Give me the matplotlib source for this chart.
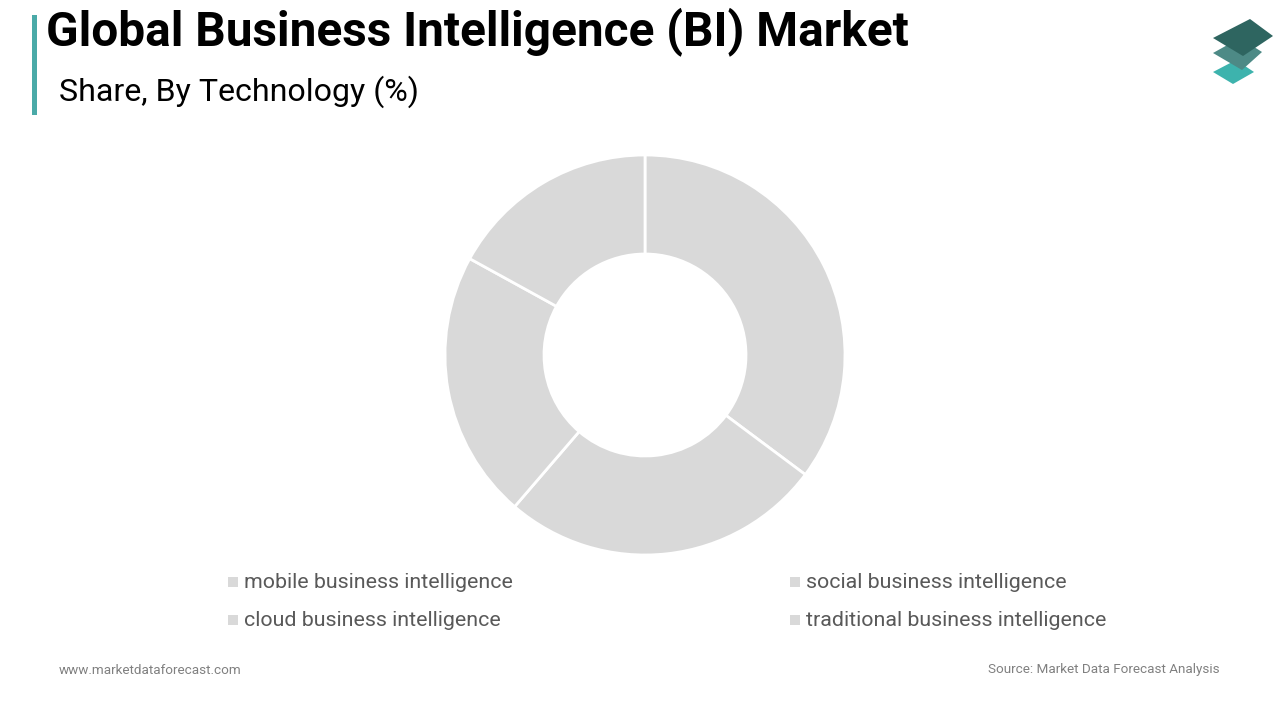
import matplotlib
matplotlib.use("Agg")
from matplotlib import pyplot as plt
from matplotlib.patches import Polygon, Rectangle

plt.rcParams['font.family'] = ['Roboto', 'DejaVu Sans']

# data (shares in %)
labels = ["mobile business intelligence", "cloud business intelligence",
          "social business intelligence", "traditional business intelligence"]
shares = [35.2, 26.1, 21.7, 17.0]

W, H = 1280, 720
fig = plt.figure(figsize=(W / 100, H / 100), dpi=100)
fig.patch.set_facecolor("white")

# donut, centre (645, 355), outer radius 200 px
cx, cy, r = 645, 355, 200
ax = fig.add_axes([(cx - r) / W, 1 - (cy + r) / H, 2 * r / W, 2 * r / H])
ax.pie(shares, startangle=90, counterclock=False, colors=["#d9d9d9"] * len(shares),
       wedgeprops=dict(width=0.495, edgecolor="white", linewidth=2))
ax.set_xlim(-1, 1)
ax.set_ylim(-1, 1)
ax.set_aspect("equal")
ax.axis("off")

# title block
fig.add_artist(Rectangle((32 / W, 1 - 115 / H), 5 / W, 100 / H, transform=fig.transFigure,
                         color="#4aaaa8", lw=0))
fig.text(46 / W, 1 - 32 / H, "Global Business Intelligence (BI) Market", fontsize=34.4,
         fontweight="bold", color="black", va="center", ha="left")
fig.text(59 / W, 1 - 92 / H, "Share, By Technology (%)", fontsize=23.1,
         color="black", va="center", ha="left")

# logo: three stacked skewed diamonds (pixel vertices)
def shape(pts, color):
    pts = [(x / W, 1 - y / H) for x, y in pts]
    fig.add_artist(Polygon(pts, closed=True, transform=fig.transFigure,
                           facecolor=color, edgecolor="none"))

shape([(1213, 72), (1236, 60), (1254, 72), (1233, 84)], "#3db3ad")
shape([(1213, 53), (1240, 38), (1262, 52), (1242, 70)], "#4d8a86")
shape([(1213, 38), (1250, 19), (1273, 36), (1243, 56)], "#2e6560")

# legend
legend_pos = [(228, 582), (228, 620), (790, 582), (790, 620)]
for lab, (x, y) in zip(labels, legend_pos):
    fig.add_artist(Rectangle((x / W, 1 - (y + 5) / H), 10 / W, 10 / H,
                             transform=fig.transFigure, color="#d9d9d9", lw=0))
    fig.text((x + 16) / W, 1 - y / H, lab, fontsize=15.4, color="#595959",
             va="center", ha="left")

# footer
fig.text(59 / W, 1 - 670 / H, "www.marketdataforecast.com", fontsize=9.7,
         color="#808080", va="center", ha="left")
fig.text(1220 / W, 1 - 670 / H, "Source: Market Data Forecast Analysis", fontsize=9.7,
         color="#808080", va="center", ha="right")

fig.savefig("out.png", dpi=100, facecolor="white")
